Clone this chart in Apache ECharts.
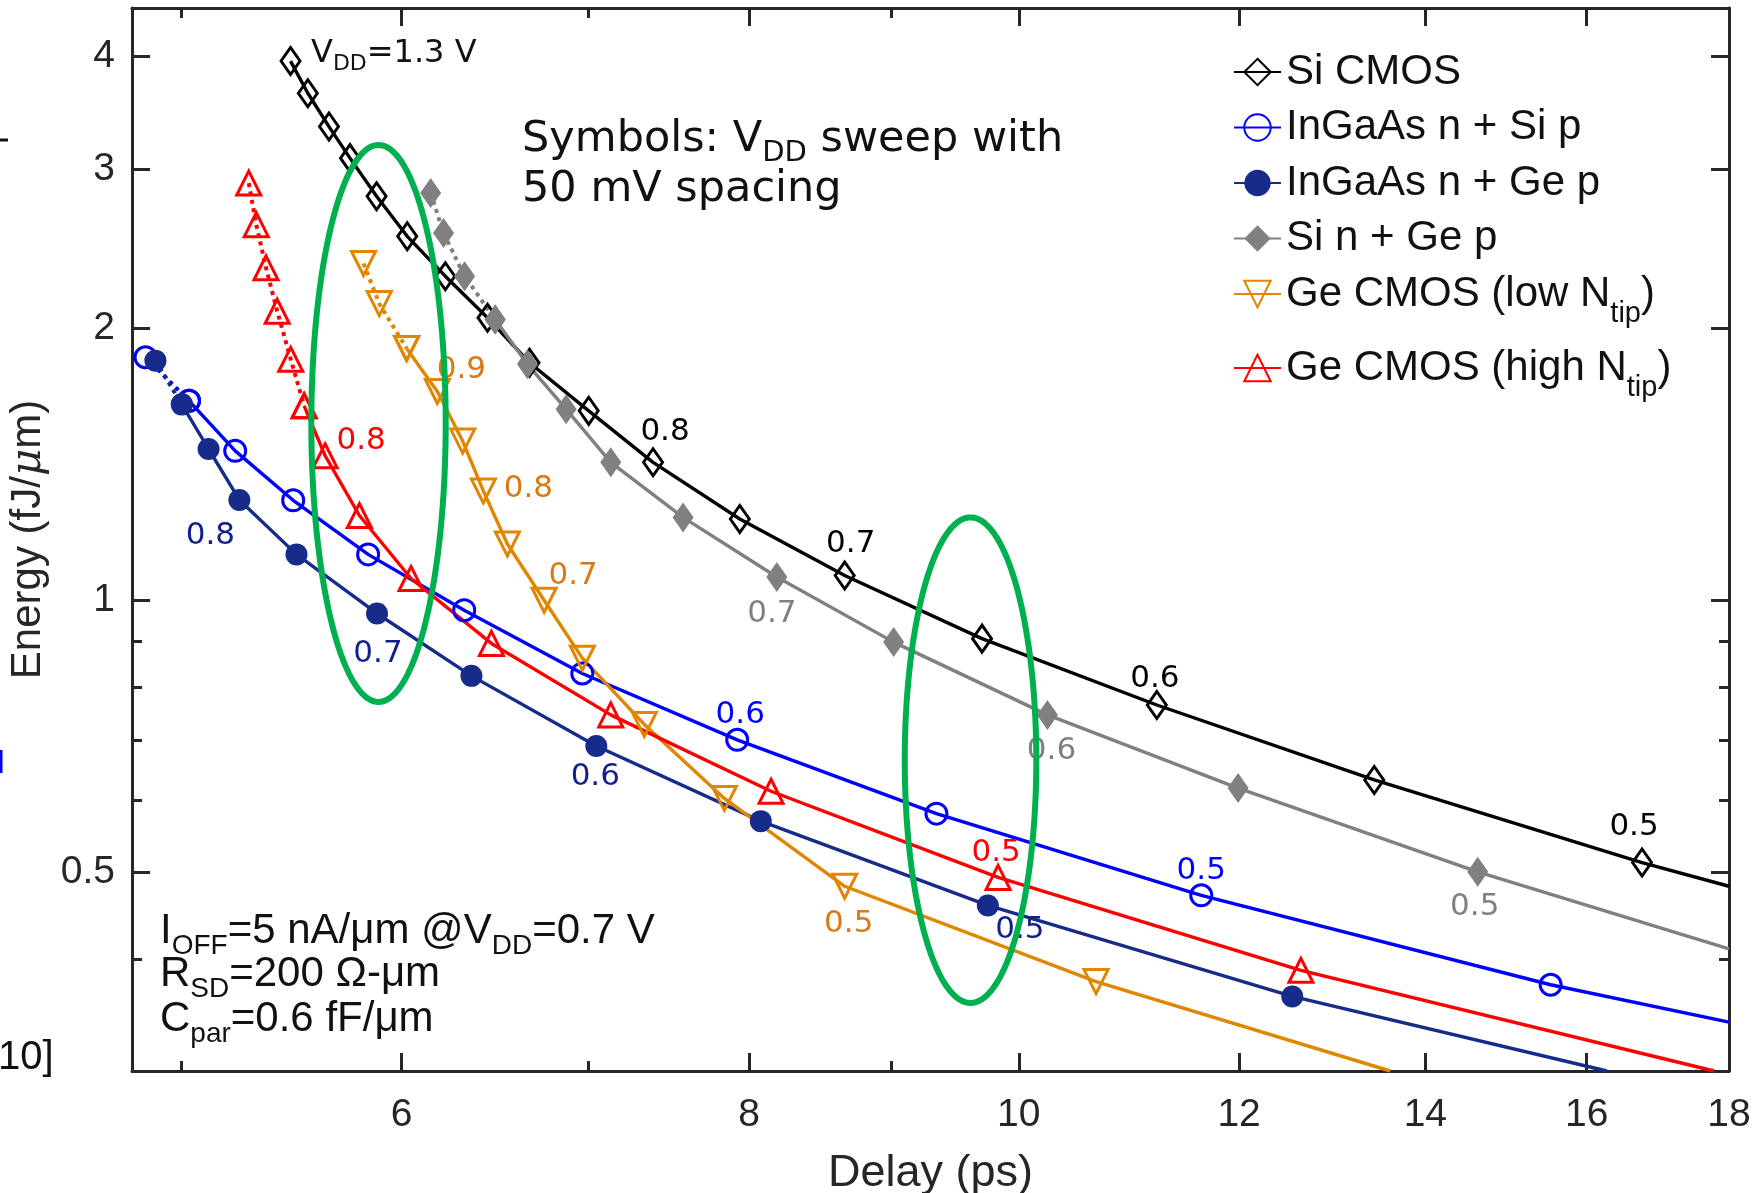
<!DOCTYPE html>
<html>
<head>
<meta charset="utf-8">
<script src="https://cdn.jsdelivr.net/npm/echarts@6/dist/echarts.min.js"></script>
<style>html,body{margin:0;padding:0;background:#fff}#c{width:1757px;height:1193px}</style>
</head>
<body>
<div id="c"></div>
<script>
// ---------- tick labels ----------
const xTicksMajor = [6, 8, 10, 12, 14, 16, 18];
const xTicksMinor = [5, 7, 9];
const yTicksMajor = [0.5, 1, 2, 3, 4];
const yTicksMinor = [0.4, 0.6, 0.7, 0.8, 0.9];

// ---------- data (delay in ps, energy in fJ/um), VDD sweep with 50 mV spacing ----------
const siCmosDelay  = [5.473, 5.552, 5.650, 5.749, 5.877, 6.028, 6.221, 6.442, 6.670, 7.005, 7.388, 7.938, 8.658, 9.700, 11.21, 13.42, 16.75];
const siCmosEnergy = [3.948, 3.637, 3.341, 3.083, 2.797, 2.526, 2.282, 2.053, 1.830, 1.619, 1.420, 1.229, 1.064, 0.906, 0.765, 0.632, 0.512];
const siCmosTail   = [18.0, 0.482];
const siCmosLabels = [[10, '0.8'], [12, '0.7'], [14, '0.6'], [16, '0.5']];

const ingaasSiDelay  = [4.854, 5.032, 5.228, 5.485, 5.836, 6.319, 6.968, 7.921, 9.341, 11.63, 15.53];
const ingaasSiEnergy = [1.856, 1.661, 1.462, 1.289, 1.123, 0.974, 0.829, 0.700, 0.580, 0.471, 0.375];
const ingaasSiTail   = [18.0, 0.341];
const ingaasSiLabels = [[7, '0.6'], [9, '0.5']];

const ingaasGeDelay  = [4.894, 5.002, 5.114, 5.246, 5.500, 5.879, 6.357, 7.049, 8.077, 9.747, 12.54];
const ingaasGeEnergy = [1.840, 1.646, 1.469, 1.290, 1.123, 0.966, 0.824, 0.689, 0.569, 0.459, 0.364];
const ingaasGeTail   = [16.27, 0.301];
const ingaasGeLabels = [[3, '0.8'], [5, '0.7'], [7, '0.6'], [9, '0.5']];

const siGeDelay  = [6.146, 6.212, 6.321, 6.483, 6.659, 6.875, 7.134, 7.574, 8.185, 9.016, 10.24, 11.99, 14.62];
const siGeEnergy = [2.821, 2.547, 2.282, 2.044, 1.823, 1.626, 1.420, 1.234, 1.060, 0.898, 0.746, 0.619, 0.500];
const siGeTail   = [18.0, 0.411];
const siGeLabels = [[8, '0.7'], [10, '0.6'], [12, '0.5']];

const geLowDelay  = [5.814, 5.890, 6.025, 6.180, 6.311, 6.420, 6.549, 6.751, 6.968, 7.335, 7.837, 8.658, 10.66];
const geLowEnergy = [2.357, 2.128, 1.898, 1.701, 1.499, 1.320, 1.153, 0.999, 0.862, 0.728, 0.603, 0.482, 0.378];
const geLowTail   = [13.6, 0.301];
const geLowLabels = [[3, '0.9'], [5, '0.8'], [7, '0.7'], [11, '0.5']];

const geHighDelay  = [5.287, 5.320, 5.363, 5.413, 5.474, 5.535, 5.632, 5.794, 6.047, 6.463, 7.134, 8.146, 9.830, 12.63];
const geHighEnergy = [2.893, 2.602, 2.331, 2.087, 1.846, 1.640, 1.444, 1.240, 1.056, 0.895, 0.746, 0.614, 0.493, 0.389];
const geHighTail   = [17.78, 0.301];
const geHighLabels = [[6, '0.8'], [12, '0.5']];

// annotation ellipses: [left delay, right delay, top energy, bottom energy]
const ellipseBounds = [[5.568, 6.223, 3.188, 0.771], [9.099, 10.146, 1.234, 0.358]];

// ---------- styling ----------
const SANS = 'Liberation Sans, Arial, Helvetica, sans-serif';
const VERD = 'DejaVu Sans, Verdana, sans-serif';
const AXC = '#262626';
const TXC = '#111111';

const STYLE = {
  si:   {color: '#000000', labelColor: '#000000', symbol: 'diamond', size: [19, 27], filled: false, rotate: 0,
         offsets: {'0.8': [12, -30], '0.7': [6, -32], '0.6': [-2, -26], '0.5': [-8, -36]}},
  inSi: {color: '#0000ff', labelColor: '#0000ff', symbol: 'circle', size: 21, filled: false, rotate: 0,
         offsets: {'0.6': [3, -25], '0.5': [0, -24]}},
  inGe: {color: '#172b8a', labelColor: '#0f1f8c', symbol: 'circle', size: 22, filled: true, rotate: 0,
         offsets: {'0.8': [-29, 36], '0.7': [1, 40], '0.6': [-1, 31], '0.5': [32, 25]}},
  siGe: {color: '#808080', labelColor: '#808080', symbol: 'diamond', size: [21, 30], filled: true, rotate: 0,
         offsets: {'0.7': [-5, 37], '0.6': [4, 36], '0.5': [-3, 35]}},
  geLo: {color: '#e08600', labelColor: '#d97a14', symbol: 'triangle', size: 24, filled: false, rotate: 180,
         offsets: {'0.9': [24, -22], '0.8': [45, -2], '0.7': [29, -24], '0.5': [4, 38]}},
  geHi: {color: '#ff0000', labelColor: '#ff0000', symbol: 'triangle', size: 24, filled: false, rotate: 0,
         offsets: {'0.8': [36, -15], '0.5': [-2, -24]}}
};

const CURVES = [
  {key: 'si',   name: 'Si CMOS',             delay: siCmosDelay,   energy: siCmosEnergy,   tail: siCmosTail,   labels: siCmosLabels,   dottedEnd: 0},
  {key: 'inSi', name: 'InGaAs n + Si p',     delay: ingaasSiDelay, energy: ingaasSiEnergy, tail: ingaasSiTail, labels: ingaasSiLabels, dottedEnd: 1},
  {key: 'inGe', name: 'InGaAs n + Ge p',     delay: ingaasGeDelay, energy: ingaasGeEnergy, tail: ingaasGeTail, labels: ingaasGeLabels, dottedEnd: 1},
  {key: 'siGe', name: 'Si n + Ge p',         delay: siGeDelay,     energy: siGeEnergy,     tail: siGeTail,     labels: siGeLabels,     dottedEnd: 3},
  {key: 'geLo', name: 'Ge CMOS (low Ntip)',  delay: geLowDelay,    energy: geLowEnergy,    tail: geLowTail,    labels: geLowLabels,    dottedEnd: 2},
  {key: 'geHi', name: 'Ge CMOS (high Ntip)', delay: geHighDelay,   energy: geHighEnergy,   tail: geHighTail,   labels: geHighLabels,   dottedEnd: 5}
];

const series = [];
CURVES.forEach(c => {
  const st = STYLE[c.key];
  const itemStyle = st.filled
    ? {color: st.color, borderColor: st.color, borderWidth: 0}
    : {color: 'rgba(255,255,255,0)', borderColor: st.color, borderWidth: 3};
  const common = {
    type: 'line', xAxisIndex: 0, yAxisIndex: 0,
    symbol: st.symbol, symbolSize: st.size, symbolRotate: st.rotate,
    showAllSymbol: true, itemStyle: itemStyle, animation: false, silent: true,
    emphasis: {disabled: true}
  };
  const mk = (i) => {
    const item = {value: [c.delay[i], c.energy[i]]};
    const lab = c.labels.find(l => l[0] === i);
    if (lab) {
      item.label = {show: true, formatter: lab[1], position: 'inside', offset: st.offsets[lab[1]],
        color: st.labelColor, fontSize: 31, fontFamily: VERD};
    }
    return item;
  };
  if (c.dottedEnd > 0) {
    const d = [];
    for (let i = 0; i <= c.dottedEnd; i++) d.push({value: [c.delay[i], c.energy[i]]});
    series.push(Object.assign({}, common, {
      name: c.name + ' (dotted)', data: d,
      lineStyle: {color: st.color, width: 4, type: [4, 4.5]}
    }));
  }
  const s = [];
  for (let i = c.dottedEnd; i < c.delay.length; i++) s.push(mk(i));
  s.push({value: c.tail, symbol: 'none'});
  series.push(Object.assign({}, common, {
    name: c.name, data: s,
    lineStyle: {color: st.color, width: 3.4}
  }));
});

series.push({
  type: 'custom', coordinateSystem: 'cartesian2d', xAxisIndex: 0, yAxisIndex: 0,
  data: ellipseBounds, encode: {x: [0, 1], y: [2, 3]}, silent: true, z: 5, animation: false,
  renderItem: function (params, api) {
    const p1 = api.coord([api.value(0), api.value(2)]);
    const p2 = api.coord([api.value(1), api.value(3)]);
    const cx = (p1[0] + p2[0]) / 2, cy = (p1[1] + p2[1]) / 2;
    const rx = Math.abs(p2[0] - p1[0]) / 2, ry = Math.abs(p2[1] - p1[1]) / 2;
    const pts = [];
    for (let k = 0; k < 180; k++) {
      const t = k / 180 * Math.PI * 2;
      pts.push([cx + rx * Math.cos(t), cy + ry * Math.sin(t)]);
    }
    return {type: 'polygon', shape: {points: pts}, style: {fill: 'none', stroke: '#00b04f', lineWidth: 6}};
  }
});

const axisLine = {show: true, onZero: false, lineStyle: {color: AXC, width: 3}};
const X_MIN = 4.8, X_MAX = 18, Y_MIN = 0.301, Y_MAX = 4.52;
function xAx(position, ticks, len, withLabels) {
  return {
    type: 'log', logBase: 10, min: X_MIN, max: X_MAX, position: position, gridIndex: 0,
    axisLine: withLabels === null ? {show: false} : axisLine,
    axisTick: {show: true, inside: true, length: len, customValues: ticks, lineStyle: {color: AXC, width: 3}},
    axisLabel: withLabels ? {show: true, customValues: ticks, margin: 25, fontSize: 39, fontFamily: SANS, color: AXC,
      formatter: v => String(v)} : {show: false},
    minorTick: {show: false}, splitLine: {show: false}, minorSplitLine: {show: false}
  };
}
function yAx(position, ticks, len, withLabels) {
  return {
    type: 'log', logBase: 10, min: Y_MIN, max: Y_MAX, position: position, gridIndex: 0,
    axisLine: withLabels === null ? {show: false} : axisLine,
    axisTick: {show: true, inside: true, length: len, customValues: ticks, lineStyle: {color: AXC, width: 3}},
    axisLabel: withLabels ? {show: true, customValues: ticks, margin: 17, fontSize: 39, fontFamily: SANS, color: AXC,
      formatter: v => String(v)} : {show: false},
    minorTick: {show: false}, splitLine: {show: false}, minorSplitLine: {show: false}
  };
}
const xAxes = [xAx('bottom', xTicksMajor, 18, true), xAx('top', xTicksMajor, 18, false),
               xAx('bottom', xTicksMinor, 10, null), xAx('top', xTicksMinor, 10, null)];
xAxes[0].name = 'Delay (ps)';
xAxes[0].nameLocation = 'middle';
xAxes[0].nameGap = 80;
xAxes[0].nameTextStyle = {fontSize: 45, fontFamily: SANS, color: AXC};
const yAxes = [yAx('left', yTicksMajor, 18, true), yAx('right', yTicksMajor, 18, false),
               yAx('left', yTicksMinor, 10, null), yAx('right', yTicksMinor, 10, null)];
yAxes[0].name = 'Energy (fJ/{i|μ}m)';
yAxes[0].nameLocation = 'middle';
yAxes[0].nameGap = 72;
yAxes[0].nameTextStyle = {fontSize: 42, fontFamily: SANS, color: AXC, rich: {i: {fontSize: 42, fontStyle: 'italic', fontFamily: 'DejaVu Serif, serif', color: AXC}}};

// subscript rich style: shifted down by `shift` px without enlarging the line
const SUB = (fs, shift, lh, fam) => ({fontSize: fs, fontFamily: fam, color: TXC, lineHeight: lh, padding: [shift, 0, -shift, 0]});

const legendNames = CURVES.map(c => c.name);
const legendText = {
  'Ge CMOS (low Ntip)': 'Ge CMOS (low N{s|tip})',
  'Ge CMOS (high Ntip)': 'Ge CMOS (high N{s2|tip})'
};

function label(left, top, text, size, fam, lh, sub) {
  return {type: 'text', left: left, top: top, silent: true,
    style: {text: text, font: size + 'px ' + fam, fill: TXC, lineHeight: lh, rich: sub ? {s: sub} : undefined}};
}

const option = {
  animation: false,
  backgroundColor: '#ffffff',
  grid: {left: 132, top: 8, width: 1597, height: 1063, containLabel: false, outerBoundsMode: 'none'},
  xAxis: xAxes,
  yAxis: yAxes,
  legend: {
    show: true, orient: 'vertical', left: 1233, top: 51, padding: 0, itemGap: 13.5,
    itemWidth: 47, itemHeight: 33, data: legendNames, selectedMode: false,
    formatter: n => legendText[n] || n,
    textStyle: {fontSize: 42, fontFamily: SANS, color: TXC, lineHeight: 42,
      rich: {s: SUB(29, 20, 42, SANS), s2: SUB(29, 20, 52, SANS)}}
  },
  series: series,
  graphic: [
    label(311, 36, 'V{s|DD}=1.3 V', 32, VERD, 36, SUB(22, 10, 36, VERD)),
    label(522, 115.5, 'Symbols: V{s|DD} sweep with', 43, VERD, 48, SUB(29, 14, 48, VERD)),
    label(522, 165.5, '50 mV spacing', 43, VERD, 48),
    label(160, 909, 'I{s|OFF}=5 nA/μm @V{s|DD}=0.7 V', 42, SANS, 44, SUB(28, 15, 44, SANS)),
    label(160, 952, 'R{s|SD}=200 Ω-μm', 42, SANS, 44, SUB(28, 15, 44, SANS)),
    label(160, 997, 'C{s|par}=0.6 fF/μm', 42, SANS, 44, SUB(28, 15, 44, SANS)),
    label(-2, 1036, '10]', 40, SANS, 44),
    {type: 'line', silent: true, shape: {x1: 0, y1: 140, x2: 8, y2: 140}, style: {stroke: TXC, lineWidth: 3}},
    {type: 'line', silent: true, shape: {x1: 1, y1: 750, x2: 1, y2: 773}, style: {stroke: '#0000ff', lineWidth: 3}}
  ]
};

const chart = echarts.init(document.getElementById('c'), null, {renderer: 'canvas'});
chart.setOption(option);
</script>
</body>
</html>
